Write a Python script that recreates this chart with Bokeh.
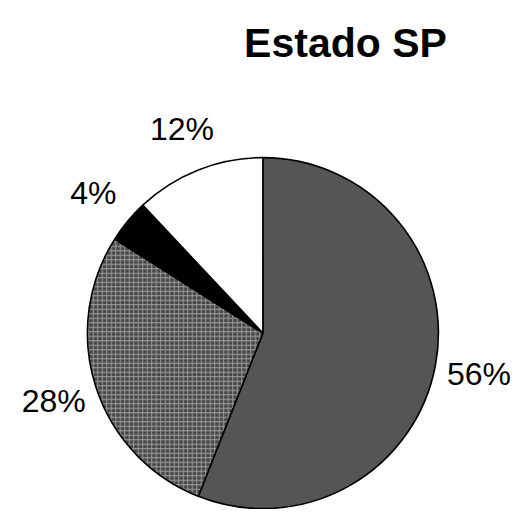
import math
from bokeh.plotting import figure
from bokeh.models import Range1d, ColumnDataSource
from bokeh.core.properties import value
from bokeh.embed import file_html
from bokeh.resources import INLINE

# ---- data ----
title = "Estado SP"
categories = ["A", "B", "C", "D"]
shares = [56, 28, 4, 12]
labels = ["56%", "28%", "4%", "12%"]

# ---- styles ----
fills = ["#555555", "#474747", "#000000", "#ffffff"]
hatches = [" ", "+", " ", " "]

W, H = 516, 509
p = figure(width=W, height=H, output_backend="svg", toolbar_location=None,
           x_range=Range1d(0, W), y_range=Range1d(0, H), min_border=0,
           background_fill_color="white", border_fill_color="white")
p.axis.visible = False
p.grid.visible = False
p.outline_line_color = None

cx, cy, R, RL = 262.4, 176.4, 175.5, 220.0
total = sum(shares)
starts, ends, lx, ly = [], [], [], []
cum = 0.0
for s in shares:
    a0 = math.pi / 2 - 2 * math.pi * cum / total
    a1 = math.pi / 2 - 2 * math.pi * (cum + s) / total
    starts.append(a0)
    ends.append(a1)
    mid = (a0 + a1) / 2
    lx.append(cx + RL * math.cos(mid))
    ly.append(cy + RL * math.sin(mid))
    cum += s

src = ColumnDataSource(dict(cat=categories, start=starts, end=ends, fill=fills,
                            hatch=hatches, lx=lx, ly=ly, label=labels))
p.wedge(x=cx, y=cy, radius=R, start_angle="start", end_angle="end",
        direction="clock", fill_color="fill", hatch_pattern="hatch",
        hatch_color="#9a9a9a", hatch_scale=4.5, hatch_weight=1,
        line_color="black", line_width=1.6, source=src)

p.text(x="lx", y="ly", text="label", source=src, text_align="center",
       text_baseline="middle", text_font=value("Liberation Sans"),
       text_font_size="32px", text_color="black")

p.text(x=[345], y=[467], text=[title], text_align="center",
       text_baseline="alphabetic", text_font=value("Liberation Sans"),
       text_font_size="41px", text_font_style="bold", text_color="black")

open("out.html", "w").write(file_html(p, INLINE))
